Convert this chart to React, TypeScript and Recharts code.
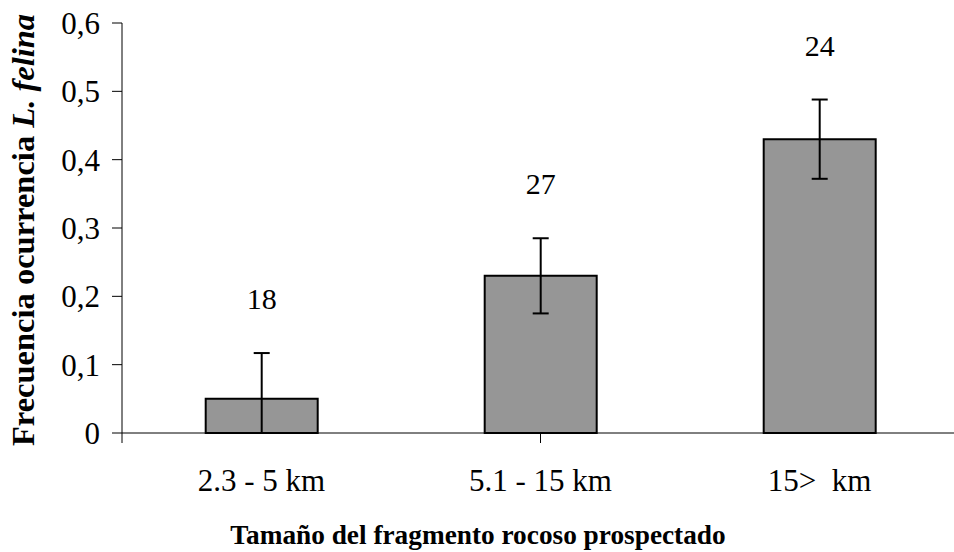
import React from 'react';
import { BarChart, Bar, XAxis, YAxis, ErrorBar, LabelList, Label } from 'recharts';

const categories = ['2.3 - 5 km', '5.1 - 15 km', '15>  km'];
const frequency = [0.05, 0.23, 0.43];
const errLow = [0.05, 0.055, 0.058];
const errHigh = [0.067, 0.055, 0.058];
const sampleN = [18, 27, 24];
const yTicks = [0, 0.1, 0.2, 0.3, 0.4, 0.5, 0.6];
const boundaryTicks = [0, 1, 2, 3];

const data = categories.map((c, i) => ({
  category: c,
  freq: frequency[i],
  err: [errLow[i], errHigh[i]],
  n: sampleN[i],
}));

const FONT = "'Liberation Serif', 'Times New Roman', serif";

const fmt = (v: number) => (v === 0 ? '0' : v.toFixed(1).replace('.', ','));
const catFmt = (s: string) => String(s).replace(/  /g, '\u00a0 ');

const NLabel = (props: any) => {
  const vb = props.viewBox || props;
  const x = Number(vb.x);
  const y = Number(vb.y);
  const w = Number(vb.width);
  const h = Number(vb.height);
  let idx = typeof props.index === 'number' ? props.index : sampleN.indexOf(Number(props.value));
  if (idx < 0) idx = 0;
  const pxPerUnit = h / frequency[idx];
  const errTop = y - errHigh[idx] * pxPerUnit;
  return (
    <text x={x + w / 2} y={errTop - 44} textAnchor="middle" fontFamily={FONT} fontSize={30} fill="#000">
      {sampleN[idx]}
    </text>
  );
};

const YTitle = () => (
  <text
    x={0}
    y={0}
    transform="translate(34, 230) rotate(-90)"
    textAnchor="middle"
    fontFamily={FONT}
    fontSize={32.5}
    fontWeight="bold"
    fill="#000"
  >
    <tspan>Frecuencia ocurrencia </tspan>
    <tspan fontStyle="italic">L. felina</tspan>
  </text>
);

const XTitle = () => (
  <text x={478} y={544} textAnchor="middle" fontFamily={FONT} fontSize={27.3} fontWeight="bold" fill="#000">
    Tamaño del fragmento rocoso prospectado
  </text>
);

export default function App() {
  return (
    <div style={{ position: 'absolute', left: 0, top: 0, width: 954, height: 552, overflow: 'hidden', background: '#fff' }}>
      <BarChart
        width={960}
        height={552}
        data={data}
        margin={{ top: 23, right: 1, bottom: 0, left: 0 }}
        barCategoryGap="30%"
      >
        <YAxis
          width={122}
          domain={[0, 0.6]}
          ticks={yTicks}
          tickFormatter={fmt}
          tickSize={10}
          tickMargin={12}
          axisLine={{ stroke: '#000', strokeWidth: 1 }}
          tickLine={{ stroke: '#000', strokeWidth: 1 }}
          tick={{ fontSize: 31, fill: '#000', fontFamily: FONT }}
          interval={0}
        >
          <Label content={<YTitle />} />
        </YAxis>
        <XAxis
          xAxisId="zcats"
          dataKey="category"
          axisLine={false}
          tickLine={false}
          tickSize={0}
          tickMargin={26}
          height={109}
          interval={0}
          tickFormatter={catFmt}
          tick={{ fontSize: 31, fill: '#000', fontFamily: FONT }}
        >
          <Label content={<XTitle />} />
        </XAxis>
        <XAxis
          xAxisId="alines"
          type="number"
          domain={[0, 3]}
          ticks={boundaryTicks}
          tick={() => <g />}
          tickSize={10}
          height={10}
          axisLine={{ stroke: '#000', strokeWidth: 1 }}
          tickLine={{ stroke: '#000', strokeWidth: 1 }}
          interval={0}
        />
        <Bar
          xAxisId="zcats"
          dataKey="freq"
          fill="#969696"
          stroke="#000"
          strokeWidth={2}
          isAnimationActive={false}
        >
          <ErrorBar dataKey="err" direction="y" stroke="#000" strokeWidth={2} width={8} />
          <LabelList dataKey="n" content={<NLabel />} />
        </Bar>
      </BarChart>
    </div>
  );
}
